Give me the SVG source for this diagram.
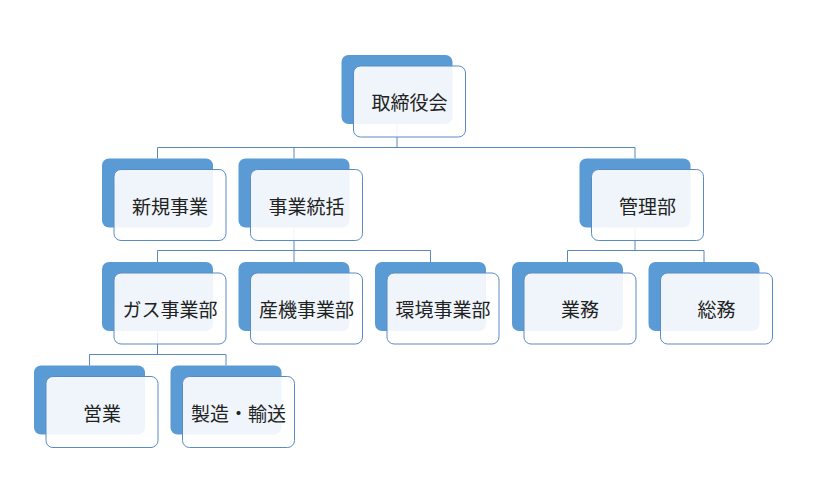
<svg xmlns="http://www.w3.org/2000/svg" width="820" height="481" viewBox="0 0 820 481">
<style>
.bk{fill:#5B9BD5}
.fr{fill:#ffffff;fill-opacity:0.9;stroke:#5A8BC6;stroke-width:1}
.tx{font-family:"Noto Sans CJK JP","Noto Sans CJK SC",sans-serif;font-size:19px;fill:#222;text-anchor:middle;dominant-baseline:central}
.cn{fill:none;stroke:#5A87BF;stroke-width:1}
</style>
<rect width="820" height="481" fill="#ffffff"/>
<g id="connectors">
<path class="cn" d="M397,124 V147.5 M157.5,147.5 H635 M157.5,147.5 V158.5 M294,147.5 V158.5 M635,147.5 V158.5"/>
<path class="cn" d="M294,227.5 V250.5 M157.5,250.5 H430.5 M157.5,250.5 V262 M294,250.5 V262 M430.5,250.5 V262"/>
<path class="cn" d="M635,227.5 V250.5 M567.5,250.5 H704 M567.5,250.5 V262 M704,250.5 V262"/>
<path class="cn" d="M157.5,331 V354.5 M89.5,354.5 H226 M89.5,354.5 V365.5 M226,354.5 V365.5"/>
</g>
<g id="n-root" transform="translate(397,55)">
<rect class="bk" x="-55.5" y="0" width="111" height="69" rx="7"/>
<rect class="fr" x="-43.5" y="11" width="112" height="71" rx="7"/>
<text class="tx" x="12.5" y="46.5">取締役会</text>
</g>
<g id="n-shinki" transform="translate(157.5,158.5)">
<rect class="bk" x="-55.5" y="0" width="111" height="69" rx="7"/>
<rect class="fr" x="-43.5" y="11" width="112" height="71" rx="7"/>
<text class="tx" x="12.5" y="46.5">新規事業</text>
</g>
<g id="n-tokatsu" transform="translate(294,158.5)">
<rect class="bk" x="-55.5" y="0" width="111" height="69" rx="7"/>
<rect class="fr" x="-43.5" y="11" width="112" height="71" rx="7"/>
<text class="tx" x="12.5" y="46.5">事業統括</text>
</g>
<g id="n-kanri" transform="translate(635,158.5)">
<rect class="bk" x="-55.5" y="0" width="111" height="69" rx="7"/>
<rect class="fr" x="-43.5" y="11" width="112" height="71" rx="7"/>
<text class="tx" x="12.5" y="46.5">管理部</text>
</g>
<g id="n-gas" transform="translate(157.5,262)">
<rect class="bk" x="-55.5" y="0" width="111" height="69" rx="7"/>
<rect class="fr" x="-43.5" y="11" width="112" height="71" rx="7"/>
<text class="tx" x="12.5" y="46.5">ガス事業部</text>
</g>
<g id="n-sanki" transform="translate(294,262)">
<rect class="bk" x="-55.5" y="0" width="111" height="69" rx="7"/>
<rect class="fr" x="-43.5" y="11" width="112" height="71" rx="7"/>
<text class="tx" x="12.5" y="46.5">産機事業部</text>
</g>
<g id="n-kankyo" transform="translate(430.5,262)">
<rect class="bk" x="-55.5" y="0" width="111" height="69" rx="7"/>
<rect class="fr" x="-43.5" y="11" width="112" height="71" rx="7"/>
<text class="tx" x="12.5" y="46.5">環境事業部</text>
</g>
<g id="n-gyomu" transform="translate(567.5,262)">
<rect class="bk" x="-55.5" y="0" width="111" height="69" rx="7"/>
<rect class="fr" x="-43.5" y="11" width="112" height="71" rx="7"/>
<text class="tx" x="12.5" y="46.5">業務</text>
</g>
<g id="n-somu" transform="translate(704,262)">
<rect class="bk" x="-55.5" y="0" width="111" height="69" rx="7"/>
<rect class="fr" x="-43.5" y="11" width="112" height="71" rx="7"/>
<text class="tx" x="12.5" y="46.5">総務</text>
</g>
<g id="n-eigyo" transform="translate(89.5,365.5)">
<rect class="bk" x="-55.5" y="0" width="111" height="69" rx="7"/>
<rect class="fr" x="-43.5" y="11" width="112" height="71" rx="7"/>
<text class="tx" x="12.5" y="46.5">営業</text>
</g>
<g id="n-seizo" transform="translate(226,365.5)">
<rect class="bk" x="-55.5" y="0" width="111" height="69" rx="7"/>
<rect class="fr" x="-43.5" y="11" width="112" height="71" rx="7"/>
<text class="tx" x="12.5" y="46.5">製造・輸送</text>
</g>
</svg>
